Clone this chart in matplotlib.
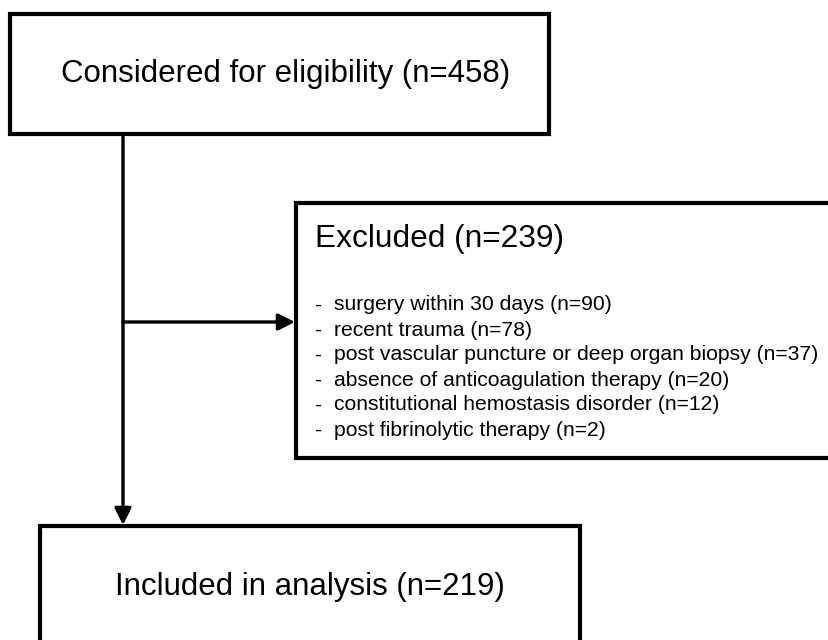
import matplotlib
matplotlib.use("Agg")
import matplotlib.pyplot as plt
from matplotlib.patches import FancyArrowPatch

plt.rcParams['font.family'] = ['Liberation Sans', 'DejaVu Sans']

# flowchart content
considered_label = "Considered for eligibility"
considered_n = 458
excluded_label = "Excluded"
excluded_n = 239
reasons = [
    "surgery within 30 days",
    "recent trauma",
    "post vascular puncture or deep organ biopsy",
    "absence of anticoagulation therapy",
    "constitutional hemostasis disorder",
    "post fibrinolytic therapy",
]
reason_counts = [90, 78, 37, 20, 12, 2]
included_label = "Included in analysis"
included_n = 219

fig = plt.figure(figsize=(8.29, 6.4), dpi=100)
ax = fig.add_axes([0, 0, 1, 1])
ax.set_xlim(0, 829)
ax.set_ylim(640, 0)
ax.axis('off')

box_lw = 3.0
line_lw = 2.4


def box(x0, y0, x1, y1):
    # start halfway down the left edge so every corner gets a proper miter join
    ym = (y0 + y1) / 2
    ax.plot([x0, x0, x1, x1, x0, x0], [ym, y0, y0, y1, y1, ym], color='black',
            linewidth=box_lw, solid_joinstyle='miter', solid_capstyle='butt', clip_on=False)


def arrow(x0, y0, x1, y1):
    ax.add_patch(FancyArrowPatch((x0, y0), (x1, y1), arrowstyle='-|>,head_length=10,head_width=5',
                                 mutation_scale=1, color='black', linewidth=line_lw,
                                 shrinkA=0, shrinkB=0))


# boxes
box(10, 14, 549, 134)
box(296, 203, 835, 458)
box(40, 526, 580, 665)

# connectors
arrow(123, 134, 123, 525)
arrow(123, 322, 295, 322)

ax.text(286, 74, "{} (n={})".format(considered_label, considered_n),
        fontsize=22.5, ha='center', va='center')
ax.text(315, 239, "{} (n={})".format(excluded_label, excluded_n),
        fontsize=22.8, ha='left', va='center')

for i, (reason, count) in enumerate(zip(reasons, reason_counts)):
    y = 305 + 25 * i
    ax.text(315, y, "-", fontsize=15.2, ha='left', va='center')
    ax.text(334, y, "{} (n={})".format(reason, count), fontsize=15.2, ha='left', va='center')

ax.text(310, 587, "{} (n={})".format(included_label, included_n),
        fontsize=22.5, ha='center', va='center')

plt.savefig('out.png', dpi=100)
